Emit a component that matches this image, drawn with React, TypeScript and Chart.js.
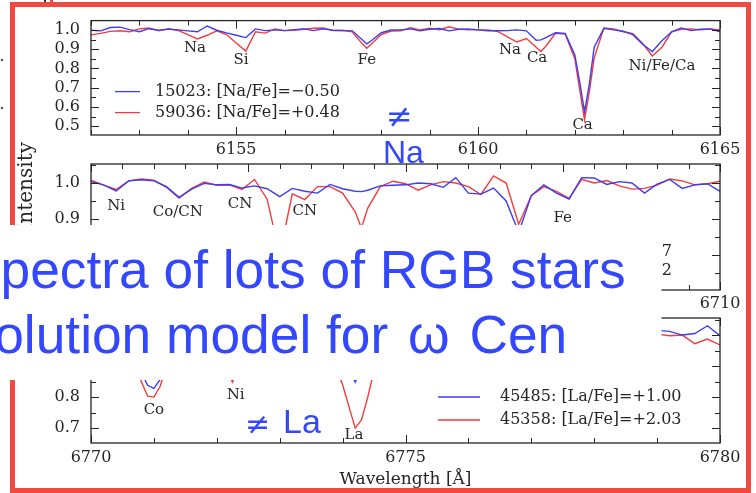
import React, { useEffect, useRef } from "react";
import { Chart, registerables } from "chart.js";
Chart.register(...registerables);

// ---------- Panel 1: 6152–6165 Å (Na) ----------
const wl1 = [6152.0, 6152.2, 6152.4, 6152.6, 6152.8, 6153.0, 6153.2, 6153.4, 6153.6, 6153.8, 6154.0, 6154.2, 6154.4, 6154.6, 6154.8, 6155.0, 6155.2, 6155.4, 6155.6, 6155.8, 6156.0, 6156.2, 6156.4, 6156.6, 6156.8, 6157.0, 6157.2, 6157.4, 6157.6, 6157.7, 6157.8, 6158.0, 6158.2, 6158.4, 6158.6, 6158.8, 6159.0, 6159.2, 6159.4, 6159.6, 6159.8, 6160.0, 6160.2, 6160.4, 6160.6, 6160.8, 6161.0, 6161.2, 6161.3, 6161.4, 6161.6, 6161.8, 6162.0, 6162.1, 6162.2, 6162.3, 6162.4, 6162.6, 6162.8, 6163.0, 6163.2, 6163.4, 6163.6, 6163.8, 6164.0, 6164.2, 6164.4, 6164.6, 6164.8, 6165.0];
const blue1 = [0.998, 0.995, 1.012, 1.014, 1.001, 0.99, 1.006, 0.998, 1.004, 1.0, 0.995, 0.99, 1.02, 0.998, 0.984, 0.972, 0.96, 1.005, 0.996, 1.0, 0.996, 1.001, 1.005, 0.996, 1.006, 0.998, 0.996, 0.995, 0.95, 0.927, 0.945, 0.985, 0.999, 1.0, 1.005, 0.995, 1.003, 1.007, 0.995, 1.003, 1.005, 1.0, 0.995, 0.995, 0.996, 1.0, 0.995, 0.946, 0.948, 0.96, 0.985, 0.982, 0.87, 0.73, 0.575, 0.72, 0.91, 1.008, 1.0, 0.993, 0.975, 0.925, 0.888, 0.943, 0.99, 1.01, 0.996, 1.003, 1.005, 0.99];
const red1 = [0.974, 0.982, 0.992, 0.995, 0.99, 1.005, 1.01, 0.995, 1.006, 0.997, 0.975, 0.953, 0.972, 0.995, 0.976, 0.932, 0.89, 0.99, 0.983, 1.005, 0.996, 0.998, 1.003, 1.008, 1.01, 0.996, 0.998, 0.99, 0.93, 0.905, 0.928, 0.976, 0.994, 0.995, 1.011, 1.0, 1.008, 1.0, 1.016, 1.004, 1.0, 1.0, 1.0, 0.992, 0.965, 0.937, 0.955, 0.91, 0.888, 0.915, 0.982, 0.978, 0.85, 0.69, 0.533, 0.68, 0.855, 1.01, 1.005, 0.99, 0.98, 0.93, 0.865, 0.91, 0.99, 1.003, 1.005, 1.0, 1.005, 1.0];
const labels1 = ["Na", "Si", "Fe", "Na", "Ca", "Ca", "Ni/Fe/Ca"];
const labelX1 = [6154.15, 6155.1, 6157.7, 6160.66, 6161.22, 6162.16, 6163.8];
const labelY1 = [0.906, 0.845, 0.845, 0.894, 0.855, 0.507, 0.811];
const legend1 = ["15023: [Na/Fe]=\u22120.50", "59036: [Na/Fe]=+0.48"];

// ---------- Panel 2: 6700–6710 Å ----------
const wl2 = [6700.0, 6700.2, 6700.4, 6700.6, 6700.8, 6701.0, 6701.2, 6701.4, 6701.6, 6701.8, 6702.0, 6702.2, 6702.4, 6702.6, 6702.8, 6703.0, 6703.2, 6703.4, 6703.6, 6703.8, 6704.0, 6704.2, 6704.3, 6704.4, 6704.6, 6704.8, 6705.0, 6705.2, 6705.4, 6705.6, 6705.8, 6706.0, 6706.2, 6706.4, 6706.6, 6706.8, 6707.0, 6707.2, 6707.4, 6707.6, 6707.8, 6708.0, 6708.2, 6708.4, 6708.6, 6708.8, 6709.0, 6709.2, 6709.4, 6709.6, 6709.8, 6710.0];
const blue2 = [1.004, 0.995, 0.978, 1.006, 1.009, 1.006, 0.99, 0.96, 0.983, 0.999, 0.995, 0.996, 0.986, 0.992, 0.984, 0.962, 0.985, 0.977, 0.972, 0.996, 0.984, 0.977, 0.976, 0.98, 0.992, 0.994, 0.995, 1.0, 0.998, 0.988, 1.015, 0.972, 0.969, 0.986, 0.95, 0.862, 0.965, 0.995, 0.972, 0.955, 1.015, 1.014, 0.996, 1.004, 1.0, 0.972, 0.997, 1.01, 0.985, 0.995, 0.998, 0.977];
const red2 = [1.008, 0.994, 0.982, 1.006, 1.011, 1.008, 0.988, 0.958, 0.985, 1.003, 0.994, 0.995, 0.982, 1.01, 0.955, 0.8, 0.97, 0.954, 0.99, 0.99, 0.972, 0.92, 0.875, 0.93, 0.99, 1.005, 0.998, 0.98, 0.995, 1.004, 1.0, 0.99, 0.968, 1.02, 1.0, 0.885, 0.965, 0.99, 0.977, 0.957, 1.01, 1.0, 1.007, 0.992, 0.983, 0.985, 0.994, 1.011, 1.006, 0.995, 0.998, 1.005];
const labels2 = ["Ni", "Co/CN", "CN", "CN", "Fe"];
const labelX2 = [6700.4, 6701.38, 6702.37, 6703.4, 6707.5];
const labelY2 = [0.936, 0.919, 0.942, 0.922, 0.903];
const legend2 = ["43475: [C/Fe]=\u22120.47", "40664: [C/Fe]=+0.12"];

// ---------- Panel 3: 6770–6780 Å (La) ----------
const wl3 = [6770.0, 6770.2, 6770.4, 6770.6, 6770.8, 6770.9, 6771.0, 6771.1, 6771.2, 6771.4, 6771.6, 6771.8, 6772.0, 6772.2, 6772.25, 6772.4, 6772.6, 6772.8, 6773.0, 6773.2, 6773.4, 6773.6, 6773.8, 6774.0, 6774.1, 6774.2, 6774.3, 6774.4, 6774.5, 6774.6, 6774.8, 6775.0, 6775.2, 6775.4, 6775.6, 6775.8, 6776.0, 6776.2, 6776.4, 6776.6, 6776.8, 6777.0, 6777.2, 6777.4, 6777.6, 6777.8, 6778.0, 6778.2, 6778.4, 6778.6, 6778.8, 6779.0, 6779.2, 6779.4, 6779.6, 6779.8, 6780.0];
const blue3 = [0.99, 1.0, 0.985, 0.96, 0.88, 0.838, 0.828, 0.857, 0.93, 0.985, 1.0, 0.99, 0.96, 0.91, 0.9, 0.95, 0.99, 1.0, 0.99, 0.995, 0.985, 0.99, 0.985, 0.95, 0.9, 0.848, 0.89, 0.95, 0.98, 0.99, 1.0, 0.99, 0.995, 0.98, 0.99, 1.0, 0.985, 0.97, 0.99, 1.0, 0.99, 0.975, 0.95, 0.925, 0.915, 0.935, 0.975, 0.995, 1.0, 0.99, 1.0, 1.015, 1.012, 1.0, 1.005, 1.03, 0.998];
const red3 = [0.985, 0.99, 0.975, 0.95, 0.85, 0.803, 0.8, 0.835, 0.9, 0.975, 0.99, 0.98, 0.94, 0.87, 0.848, 0.93, 0.985, 0.99, 0.985, 0.99, 0.975, 0.98, 0.95, 0.84, 0.77, 0.7, 0.726, 0.8, 0.885, 0.95, 0.99, 0.985, 0.99, 0.975, 0.985, 0.99, 0.975, 0.96, 0.985, 0.99, 0.98, 0.97, 0.945, 0.92, 0.905, 0.925, 0.97, 0.99, 0.995, 0.985, 0.99, 1.003, 0.998, 1.0, 0.972, 0.987, 0.968];
const labels3 = ["Co", "Ni", "La", "Fe"];
const labelX3 = [6771.0, 6772.3, 6774.18, 6777.74];
const labelY3 = [0.758, 0.806, 0.677, 0.873];
const legend3 = ["45485: [La/Fe]=+1.00", "45358: [La/Fe]=+2.03"];

const Y_TITLE = "Relative Intensity";
const X_TITLE = "Wavelength [\u00C5]";

const BLUE = "#3c3cf6";
const RED = "#f23c3c";
const INK = "#262626";
const SERIF = '"DejaVu Serif", serif';
const SLIDE_BLUE = "#3347ff";

type Spec = {
  wl: number[]; blue: number[]; red: number[];
  xmin: number; xmax: number; xstep: number; xmajor: number;
  ymin: number; ymax: number;
  top: number; bottom: number; xAxisH: number; xPad: number;
  labels: string[]; lx: number[]; ly: number[];
  legend: string[];
  leg: { x0: number; x1: number; tx: number; y: number; dy: number; align: "left" | "right" };
  yTitle?: { text: string; x: number; yEnd: number };
  xTitle?: string;
};

function isMult(v: number, m: number) {
  const r = v / m;
  return Math.abs(r - Math.round(r)) < 1e-6;
}

function makeDecor(s: Spec) {
  return {
    id: "decor",
    afterDraw(chart: any) {
      const { ctx, chartArea: a, scales } = chart;
      const x = scales.x, y = scales.y;
      ctx.save();
      ctx.strokeStyle = INK;
      ctx.lineWidth = 1.3;
      ctx.strokeRect(a.left, a.top, a.right - a.left, a.bottom - a.top);
      ctx.lineWidth = 1;
      ctx.beginPath();
      for (const t of x.ticks) {
        const px = Math.round(x.getPixelForValue(t.value)) + 0.5;
        const len = isMult(t.value, s.xmajor) ? 8 : 5;
        ctx.moveTo(px, a.bottom); ctx.lineTo(px, a.bottom - len);
        ctx.moveTo(px, a.top); ctx.lineTo(px, a.top + len);
      }
      for (const t of y.ticks) {
        const py = Math.round(y.getPixelForValue(t.value)) + 0.5;
        const len = isMult(t.value, 0.1) ? 8 : 5;
        ctx.moveTo(a.left, py); ctx.lineTo(a.left + len, py);
        ctx.moveTo(a.right, py); ctx.lineTo(a.right - len, py);
      }
      ctx.stroke();
      // line identifications
      ctx.fillStyle = INK;
      ctx.font = "15px " + SERIF;
      ctx.textAlign = "center";
      ctx.textBaseline = "middle";
      s.labels.forEach((t, i) => {
        ctx.fillText(t, x.getPixelForValue(s.lx[i]), y.getPixelForValue(s.ly[i]));
      });
      // legend
      ctx.font = "16px " + SERIF;
      ctx.textAlign = s.leg.align;
      [BLUE, RED].forEach((c, i) => {
        const yy = a.top + s.leg.y + i * s.leg.dy;
        ctx.strokeStyle = c;
        ctx.lineWidth = 1.3;
        ctx.beginPath();
        ctx.moveTo(a.left + s.leg.x0, yy);
        ctx.lineTo(a.left + s.leg.x1, yy);
        ctx.stroke();
        ctx.fillStyle = INK;
        ctx.fillText(s.legend[i], a.left + s.leg.tx, yy);
      });
      // shared y-axis title
      if (s.yTitle) {
        ctx.save();
        ctx.translate(s.yTitle.x, s.yTitle.yEnd);
        ctx.rotate(-Math.PI / 2);
        ctx.font = "20px " + SERIF;
        ctx.textAlign = "right";
        ctx.textBaseline = "middle";
        ctx.fillStyle = INK;
        ctx.fillText(s.yTitle.text, 0, 0);
        ctx.restore();
      }
      ctx.restore();
    },
  };
}

function makeConfig(s: Spec): any {
  const tickFont = { family: SERIF, size: 16 };
  return {
    type: "line",
    data: {
      datasets: [
        { data: s.wl.map((w, i) => ({ x: w, y: s.blue[i] })), borderColor: BLUE, borderWidth: 1.4, pointRadius: 0, tension: 0, fill: false },
        { data: s.wl.map((w, i) => ({ x: w, y: s.red[i] })), borderColor: RED, borderWidth: 1.4, pointRadius: 0, tension: 0, fill: false },
      ],
    },
    options: {
      responsive: false,
      animation: false,
      devicePixelRatio: 1,
      events: [],
      layout: { padding: { left: 0, right: 36, top: s.top, bottom: 493 - s.bottom - s.xAxisH } },
      plugins: { legend: { display: false }, tooltip: { enabled: false } },
      scales: {
        x: {
          type: "linear",
          min: s.xmin,
          max: s.xmax,
          afterFit: (sc: any) => { sc.height = s.xAxisH; },
          grid: { display: false, drawTicks: false },
          border: { display: false },
          ticks: {
            stepSize: s.xstep,
            autoSkip: false,
            maxRotation: 0,
            minRotation: 0,
            padding: s.xPad,
            font: tickFont,
            color: INK,
            callback: (v: number) => (isMult(v, 5) ? String(Math.round(v)) : ""),
          },
          title: s.xTitle
            ? { display: true, text: s.xTitle, color: INK, font: { family: SERIF, size: 17 }, padding: { top: 0, bottom: 1 } }
            : { display: false },
        },
        y: {
          type: "linear",
          min: s.ymin,
          max: s.ymax,
          afterFit: (sc: any) => { sc.width = 91; },
          grid: { display: false, drawTicks: false },
          border: { display: false },
          ticks: {
            stepSize: 0.05,
            autoSkip: false,
            includeBounds: false,
            padding: 11,
            font: tickFont,
            color: INK,
            callback: (v: number) => (isMult(v, 0.1) ? v.toFixed(1) : ""),
          },
        },
      },
    },
    plugins: [makeDecor(s)],
  };
}

const specs: Spec[] = [
  {
    wl: wl1, blue: blue1, red: red1,
    xmin: 6152, xmax: 6165, xstep: 1, xmajor: 5,
    ymin: 0.455, ymax: 1.048,
    top: 13, bottom: 135, xAxisH: 30, xPad: 5,
    labels: labels1, lx: labelX1, ly: labelY1,
    legend: legend1,
    leg: { x0: 24, x1: 49, tx: 64, y: 71, dy: 21, align: "left" },
  },
  {
    wl: wl2, blue: blue2, red: red2,
    xmin: 6700, xmax: 6710, xstep: 0.5, xmajor: 2.5,
    ymin: 0.702, ymax: 1.053,
    top: 164, bottom: 290, xAxisH: 30, xPad: 4,
    labels: labels2, lx: labelX2, ly: labelY2,
    legend: legend2,
    leg: { x0: 330, x1: 372, tx: 581, y: 88, dy: 19, align: "right" },
    yTitle: { text: Y_TITLE, x: 27, yEnd: 142 },
  },
  {
    wl: wl3, blue: blue3, red: red3,
    xmin: 6770, xmax: 6780, xstep: 1, xmajor: 5,
    ymin: 0.652, ymax: 1.055,
    top: 318, bottom: 443, xAxisH: 48, xPad: 5,
    labels: labels3, lx: labelX3, ly: labelY3,
    legend: legend3,
    leg: { x0: 347, x1: 389, tx: 409, y: 79, dy: 23, align: "left" },
    xTitle: X_TITLE,
  },
];

function Panel({ spec }: { spec: Spec }) {
  const ref = useRef<HTMLCanvasElement>(null);
  useEffect(() => {
    const chart = new Chart(ref.current as HTMLCanvasElement, makeConfig(spec));
    return () => chart.destroy();
  }, [spec]);
  return (
    <canvas
      ref={ref}
      width={756}
      height={493}
      style={{ position: "absolute", left: 0, top: 0, width: 756, height: 493 }}
    />
  );
}

export default function App() {
  return (
    <div style={{ position: "absolute", left: 0, top: 0, width: 756, height: 493, background: "#fff", overflow: "hidden" }}>
      {specs.map((s, i) => (
        <Panel key={i} spec={s} />
      ))}
      <svg width={756} height={493} style={{ position: "absolute", left: 0, top: 0, pointerEvents: "none" }}>
        <defs>
          <clipPath id="boxclip">
            <rect x={0} y={225} width={661.5} height={155} />
          </clipPath>
        </defs>
        <rect x={44} y={0} width={2} height={3} fill="#333" />
        <rect x={50} y={0} width={3} height={3} fill="#f24a3f" />
        <rect x={1} y={59} width={2} height={2} fill="#444" />
        <rect x={1} y={107} width={2} height={2} fill="#444" />
        <rect x={12.5} y={4.5} width={736} height={486} fill="none" stroke="#f24a3f" strokeWidth={5} />
        <rect x={0} y={225} width={661.5} height={155} fill="#fff" />
        <g clipPath="url(#boxclip)" fill={SLIDE_BLUE} fontFamily='"Liberation Sans", Arial, sans-serif' fontSize={53.3}>
          <text x={-35} y={288}>Spectra of lots of RGB stars</text>
          <text x={-68} y={353}>
            Evolution model for <tspan dx={5}>{"\u03C9"}</tspan>
            <tspan dx={5}> Cen</tspan>
          </text>
        </g>
        <g fill={SLIDE_BLUE}>
          <text x={386} y={127} fontFamily='"DejaVu Sans", sans-serif' fontSize={32}>{"\u2260"}</text>
          <text x={383} y={163} fontFamily='"Liberation Sans", Arial, sans-serif' fontSize={32}>Na</text>
          <text x={245} y={434} fontFamily='"DejaVu Sans", sans-serif' fontSize={30}>{"\u2260"}</text>
          <text x={283} y={433} fontFamily='"Liberation Sans", Arial, sans-serif' fontSize={34}>La</text>
        </g>
      </svg>
    </div>
  );
}
